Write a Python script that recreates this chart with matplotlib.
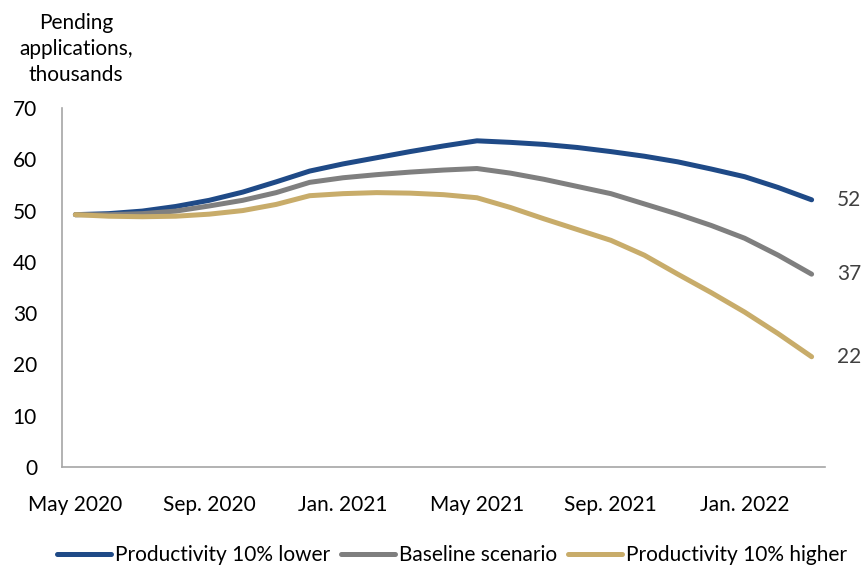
import numpy as np
import matplotlib
matplotlib.use("Agg")
import matplotlib.pyplot as plt

plt.rcParams['font.family'] = ['Lato', 'DejaVu Sans']

# monthly, May 2020 .. Mar. 2022
months = np.arange(23)
tick_pos = [0, 4, 8, 12, 16, 20]
tick_labels = ["May 2020", "Sep. 2020", "Jan. 2021", "May 2021", "Sep. 2021", "Jan. 2022"]

lower = [49.2, 49.4, 49.9, 50.8, 52.0, 53.6, 55.6, 57.7, 59.1, 60.3, 61.5, 62.6,
         63.6, 63.3, 62.9, 62.3, 61.5, 60.6, 59.5, 58.1, 56.6, 54.5, 52.1]
baseline = [49.2, 49.2, 49.4, 49.9, 50.9, 52.0, 53.5, 55.5, 56.4, 57.0, 57.5, 57.9,
            58.2, 57.3, 56.1, 54.7, 53.3, 51.3, 49.3, 47.1, 44.6, 41.3, 37.6]
higher = [49.2, 48.9, 48.8, 48.9, 49.3, 50.0, 51.2, 52.9, 53.3, 53.5, 53.4, 53.1,
          52.5, 50.6, 48.4, 46.3, 44.2, 41.3, 37.6, 34.0, 30.2, 26.0, 21.5]

names = ["Productivity 10% lower", "Baseline scenario", "Productivity 10% higher"]
colors = ["#1f4a87", "#7f7f7f", "#c8ac6a"]
end_labels = ["52", "37", "22"]

fs = 15

fig = plt.figure(figsize=(8.68, 5.69), dpi=100)
ax = fig.add_axes([62 / 868, 1 - 467 / 569, (825 - 62) / 868, (467 - 108) / 569])

for vals, name, c, lab in zip([lower, baseline, higher], names, colors, end_labels):
    ax.plot(months, vals, color=c, lw=3.6, solid_capstyle='round', label=name)
    ax.text(months[-1] + 0.75, vals[-1], lab, va='center', ha='left',
            fontsize=fs, color='#404040')

ax.set_xlim(-0.4, 22.4)
ax.set_ylim(0, 70)
ax.set_yticks(range(0, 71, 10))
ax.set_xticks(tick_pos)
ax.set_xticklabels(tick_labels)
ax.tick_params(length=0, labelsize=fs, colors='black')
ax.tick_params(axis='y', pad=18)
ax.tick_params(axis='x', pad=20)

for s in ['top', 'right']:
    ax.spines[s].set_visible(False)
for s in ['left', 'bottom']:
    ax.spines[s].set_color('#a6a6a6')
    ax.spines[s].set_linewidth(1.2)

fig.text(76 / 868, 1 - 49 / 569, "Pending\napplications,\nthousands", ha='center', va='center',
         fontsize=fs, linespacing=1.4)

fig.legend(loc='center', bbox_to_anchor=(452 / 868, 1 - 555 / 569), ncol=3, frameon=False,
           fontsize=fs, handlelength=2.6, handletextpad=0.2, columnspacing=0.5)

fig.savefig("out.png", dpi=100)
